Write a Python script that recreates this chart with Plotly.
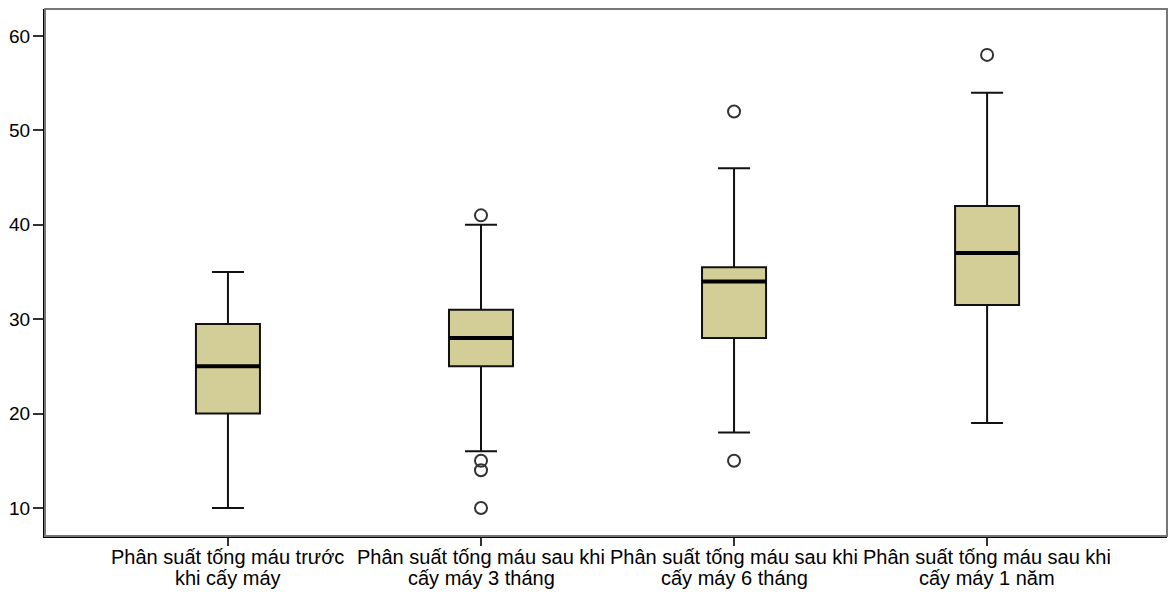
import plotly.graph_objects as go

categories = [
    "Phân suất tống máu trước<br>khi cấy máy",
    "Phân suất tống máu sau khi<br>cấy máy 3 tháng",
    "Phân suất tống máu sau khi<br>cấy máy 6 tháng",
    "Phân suất tống máu sau khi<br>cấy máy 1 năm",
]
q1 = [20, 25, 28, 31.5]
median = [25, 28, 34, 37]
q3 = [29.5, 31, 35.5, 42]
lower_whisker = [10, 16, 18, 19]
upper_whisker = [35, 40, 46, 54]

outlier_cat = [1, 1, 1, 1, 2, 2, 3]
outlier_val = [41, 15, 14, 10, 52, 15, 58]

y_ticks = [10, 20, 30, 40, 50, 60]

fig = go.Figure()
fig.add_trace(go.Box(
    x=categories, q1=q1, median=median, q3=q3,
    lowerfence=lower_whisker, upperfence=upper_whisker,
    fillcolor="rgb(211,206,151)",
    line=dict(color="#111111", width=2),
    width=0.253, whiskerwidth=0.5, boxpoints=False,
    hoverinfo="skip", showlegend=False,
))
# thick median line
fig.add_trace(go.Scatter(
    x=categories, y=median, mode="markers",
    marker=dict(symbol="line-ew", size=46, line=dict(color="black", width=4)),
    hoverinfo="skip", showlegend=False,
))
fig.add_trace(go.Scatter(
    x=[categories[i] for i in outlier_cat], y=outlier_val, mode="markers",
    marker=dict(symbol="circle-open", size=12, color="#333333", line=dict(width=2)),
    hoverinfo="skip", showlegend=False,
))

# category labels as two tightly spaced lines (reference uses compact line spacing)
annotations = []
for cat in categories:
    lines = cat.split("<br>")
    for i, line in enumerate(lines):
        annotations.append(dict(
            x=cat, xref="x", y=0, yref="paper", yanchor="top", xanchor="center",
            text=line, showarrow=False, yshift=-8 - 21 * i,
            font=dict(size=20, color="black"),
        ))

fig.update_layout(
    width=1169, height=593,
    margin=dict(l=45, r=2, t=9, b=57),
    paper_bgcolor="white", plot_bgcolor="white",
    font=dict(family="Liberation Sans, Arial, sans-serif", size=19, color="black"),
    shapes=[dict(type="rect", xref="paper", yref="paper", x0=0, y0=0, x1=1, y1=1,
                 line=dict(color="#777777", width=2), layer="above")],
    annotations=annotations,
)
fig.update_xaxes(
    type="category", categoryorder="array", categoryarray=categories,
    range=[-0.723, 3.711], showgrid=False, zeroline=False, automargin=False,
    showline=True, linecolor="black", linewidth=2, showticklabels=False,
    ticks="outside", ticklen=8, tickwidth=2, tickcolor="#333333",
    fixedrange=True,
)
fig.update_yaxes(
    range=[7.03, 62.86], tickvals=y_ticks, showgrid=False, zeroline=False, automargin=False,
    showline=True, linecolor="black", linewidth=2,
    ticks="outside", ticklen=10, tickwidth=2, tickcolor="#333333",
    tickfont=dict(size=19), ticklabelstandoff=-1, fixedrange=True,
)
fig.write_html("out.html", config={"displayModeBar": False},
               post_script="document.body.style.margin='0';")
